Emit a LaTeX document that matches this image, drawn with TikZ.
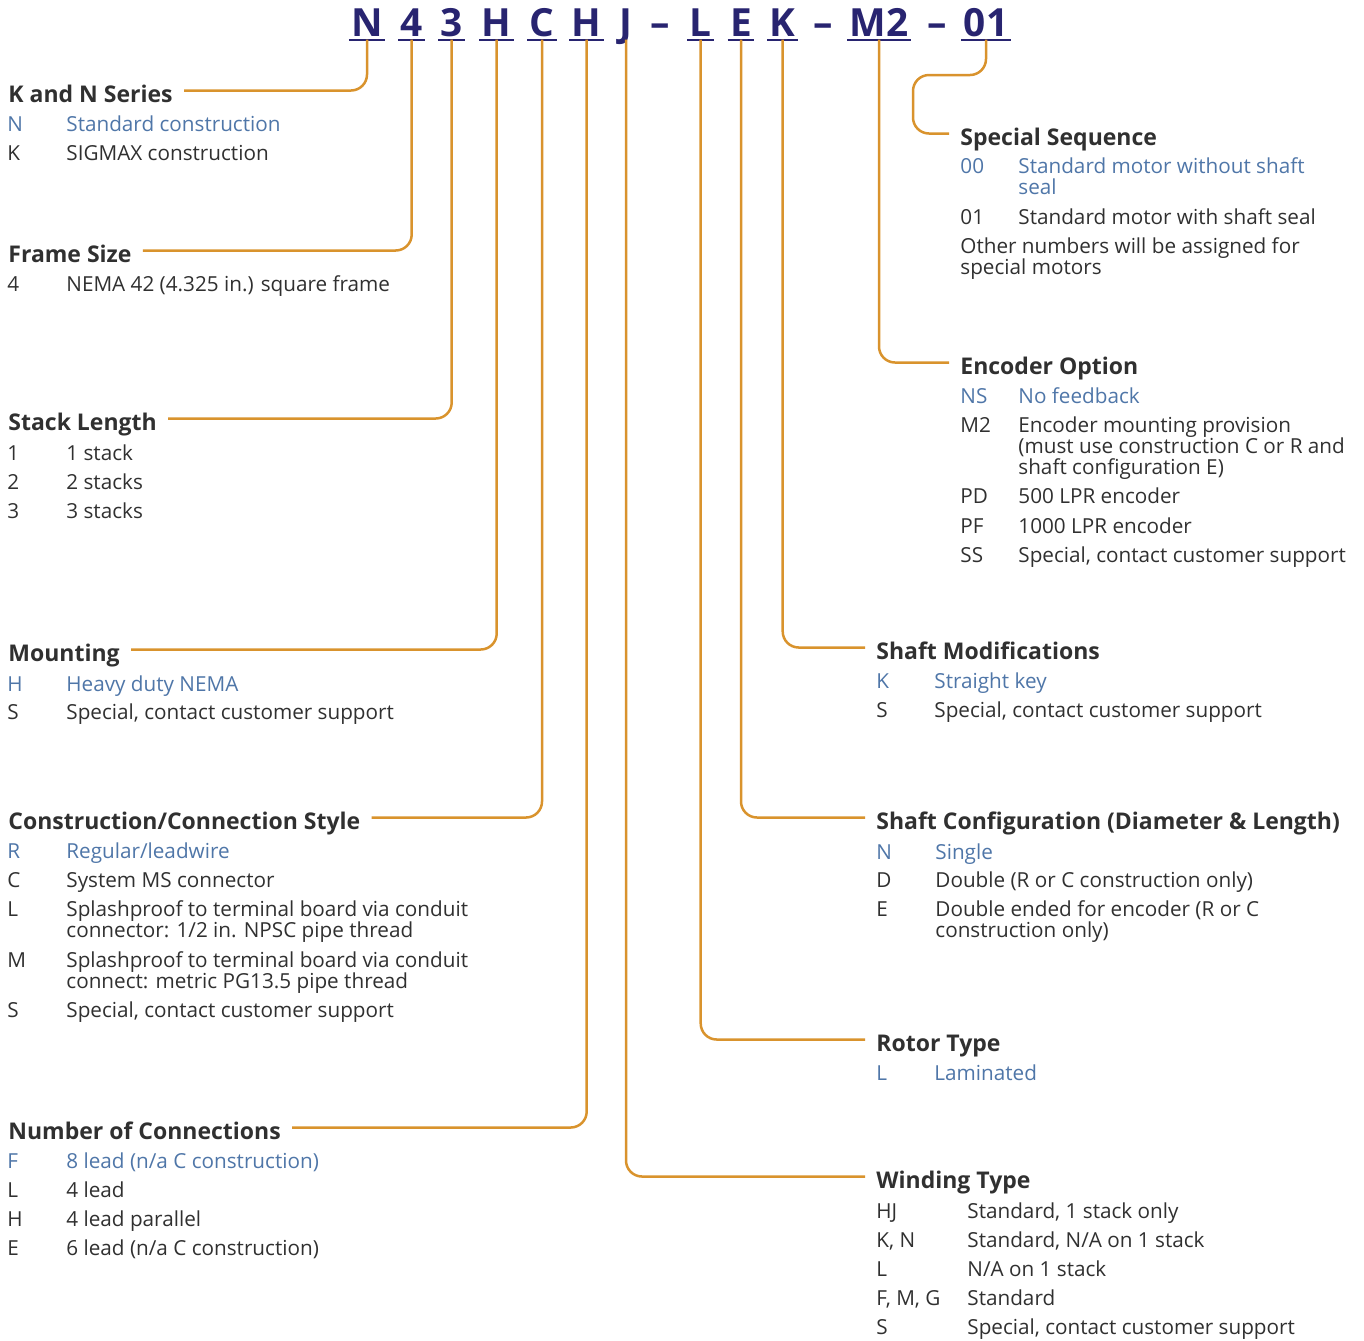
\documentclass[tikz,border=0pt]{standalone}
\usepackage{fontspec}
\setmainfont{Open Sans}
\usetikzlibrary{positioning}

\definecolor{leadcol}{HTML}{D9932D}
\definecolor{codecol}{HTML}{282470}
\definecolor{stdcol}{HTML}{4F76A8}
\definecolor{txtcol}{HTML}{303030}

\begin{document}
\begin{tikzpicture}[x=0.5pt,y=-0.5pt,
    code/.style={font=\bfseries\fontsize{19.4}{19.4}\selectfont, text=codecol,
                 anchor=base, inner xsep=1pt, inner ysep=1.65pt, text depth=0pt},
    head/.style={font=\bfseries\fontsize{11.5}{11.5}\selectfont, text=txtcol,
                 anchor=base west, inner sep=0pt, text height=11.5pt, text depth=0pt},
    opt/.style={font=\fontsize{10.35}{10.5}\selectfont, text=txtcol,
                anchor=base west, inner sep=0pt, align=left},
    std/.style={opt, text=stdcol},
    lead/.style={draw=leadcol, line width=1.25pt, rounded corners=8pt, shorten >=5.5pt}]

\useasboundingbox (0,0) rectangle (1364,1340);

% part number
\begin{scope}[every node/.style={code}]
    \node (cN)   at (367,36)   {N};
    \node (c4)   at (411.7,36) {4};
    \node (c3)   at (451.7,36) {3};
    \node (cH)   at (496.7,36) {H};
    \node (cC)   at (542,36)   {C};
    \node (cH2)  at (586.7,36) {H};
    \node (cJ)   at (626,36)   {J};
    \node (dash1) at (660,36)  {--};
    \node (cL)   at (700.7,36) {L};
    \node (cE)   at (741,36)   {E};
    \node (cK)   at (782.7,36) {K};
    \node (dash2) at (823,36)  {--};
    \node (cM2)  at (879,36)   {M2};
    \node (dash3) at (937,36)  {--};
    \node (c01)  at (986,36)   {01};
\end{scope}
\foreach \c in {cN,c4,c3,cH,cC,cH2,cL,cE,cK,cM2,c01}
    \draw[codecol, line width=1pt] (\c.south west) -- (\c.south east);

% left column (wrapped texts sit on the baseline of their last line)
\node[head] (hSeries) at (8,102)  {K and N Series};
\node[std] (sN)  at (7,131.5) {N};  \node[std] (sNd) at (66,131.5) {Standard construction};
\node[opt] (sK)  at (7,160)   {K};  \node[opt] (sKd) at (66,160)   {SIGMAX construction};

\node[head] (hFrame) at (8,262) {Frame Size};
\node[opt] (f4)  at (7,291) {4};    \node[opt] (f4d) at (66,291) {NEMA 42 (4.325 in.) square frame};

\node[head] (hStack) at (8,430) {Stack Length};
\node[opt] (l1) at (7,460) {1};     \node[opt] (l1d) at (66,460) {1 stack};
\node[opt] (l2) at (7,489) {2};     \node[opt] (l2d) at (66,489) {2 stacks};
\node[opt] (l3) at (7,518) {3};     \node[opt] (l3d) at (66,518) {3 stacks};

\node[head] (hMount) at (8,661) {Mounting};
\node[std] (mH) at (7,691) {H};     \node[std] (mHd) at (66,691) {Heavy duty NEMA};
\node[opt] (mS) at (7,719) {S};     \node[opt] (mSd) at (66,719) {Special, contact customer support};

\node[head] (hConstr) at (8,829) {Construction/Connection Style};
\node[std] (tR) at (7,858)  {R};    \node[std] (tRd) at (66,858)  {Regular/leadwire};
\node[opt] (tC) at (7,887)  {C};    \node[opt] (tCd) at (66,887)  {System MS connector};
\node[opt] (tL) at (7,916)  {L};    \node[opt] (tLd) at (66,937)  {Splashproof to terminal board via conduit\\connector: 1/2 in. NPSC pipe thread};
\node[opt] (tM) at (7,967)  {M};    \node[opt] (tMd) at (66,988)  {Splashproof to terminal board via conduit\\connect: metric PG13.5 pipe thread};
\node[opt] (tS) at (7,1017) {S};    \node[opt] (tSd) at (66,1017) {Special, contact customer support};

\node[head] (hConn) at (8,1139) {Number of Connections};
\node[std] (nF) at (7,1168) {F};    \node[std] (nFd) at (66,1168) {8 lead (n/a C construction)};
\node[opt] (nL) at (7,1197) {L};    \node[opt] (nLd) at (66,1197) {4 lead};
\node[opt] (nH) at (7,1226) {H};    \node[opt] (nHd) at (66,1226) {4 lead parallel};
\node[opt] (nE) at (7,1255) {E};    \node[opt] (nEd) at (66,1255) {6 lead (n/a C construction)};

% right column
\node[head] (hSpecial) at (960,145) {Special Sequence};
\node[std] (q00) at (960,173) {00}; \node[std] (q00d) at (1018,194) {Standard motor without shaft\\seal};
\node[opt] (q01) at (960,224) {01}; \node[opt] (q01d) at (1018,224) {Standard motor with shaft seal};
\node[opt] (qOther) at (960,274) {Other numbers will be assigned for\\special motors};

\node[head] (hEncoder) at (960,374) {Encoder Option};
\node[std] (eNS) at (960,403) {NS}; \node[std] (eNSd) at (1018,403) {No feedback};
\node[opt] (eM2) at (960,432) {M2}; \node[opt] (eM2d) at (1018,474) {Encoder mounting provision\\(must use construction C or R and\\shaft configuration E)};
\node[opt] (ePD) at (960,503) {PD}; \node[opt] (ePDd) at (1018,503) {500 LPR encoder};
\node[opt] (ePF) at (960,533) {PF}; \node[opt] (ePFd) at (1018,533) {1000 LPR encoder};
\node[opt] (eSS) at (960,562) {SS}; \node[opt] (eSSd) at (1018,562) {Special, contact customer support};

\node[head] (hShaftMod) at (876,659) {Shaft Modifications};
\node[std] (kK) at (876,688) {K};   \node[std] (kKd) at (934,688) {Straight key};
\node[opt] (kS) at (876,717) {S};   \node[opt] (kSd) at (934,717) {Special, contact customer support};

\node[head] (hShaftCfg) at (876,829) {Shaft Configuration (Diameter \& Length)};
\node[std] (gN) at (876,859) {N};   \node[std] (gNd) at (935,859) {Single};
\node[opt] (gD) at (876,887) {D};   \node[opt] (gDd) at (935,887) {Double (R or C construction only)};
\node[opt] (gE) at (876,916) {E};   \node[opt] (gEd) at (935,937) {Double ended for encoder (R or C\\construction only)};

\node[head] (hRotor) at (876,1051) {Rotor Type};
\node[std] (rL) at (876,1080) {L};  \node[std] (rLd) at (934,1080) {Laminated};

\node[head] (hWinding) at (876,1188) {Winding Type};
\node[opt] (wHJ)  at (876,1218) {HJ};      \node[opt] (wHJd)  at (967,1218) {Standard, 1 stack only};
\node[opt] (wKN)  at (876,1247) {K, N};    \node[opt] (wKNd)  at (967,1247) {Standard, N/A on 1 stack};
\node[opt] (wL)   at (876,1276) {L};       \node[opt] (wLd)   at (967,1276) {N/A on 1 stack};
\node[opt] (wFMG) at (876,1305) {F, M, G}; \node[opt] (wFMGd) at (967,1305) {Standard};
\node[opt] (wS)   at (876,1334) {S};       \node[opt] (wSd)   at (967,1334) {Special, contact customer support};

% leader lines
\coordinate (bend01) at (913,75);
\begin{scope}[every path/.style={lead}]
    \path (cN.south)  |- (hSeries.east);
    \path (c4.south)  |- (hFrame.east);
    \path (c3.south)  |- (hStack.east);
    \path (cH.south)  |- (hMount.east);
    \path (cC.south)  |- (hConstr.east);
    \path (cH2.south) |- (hConn.east);
    \path (cJ.south)  |- (hWinding.west);
    \path (cL.south)  |- (hRotor.west);
    \path (cE.south)  |- (hShaftCfg.west);
    \path (cK.south)  |- (hShaftMod.west);
    \path (cM2.south) |- (hEncoder.west);
    \path (c01.south) |- (bend01) |- (hSpecial.west);
\end{scope}
\end{tikzpicture}
\end{document}
